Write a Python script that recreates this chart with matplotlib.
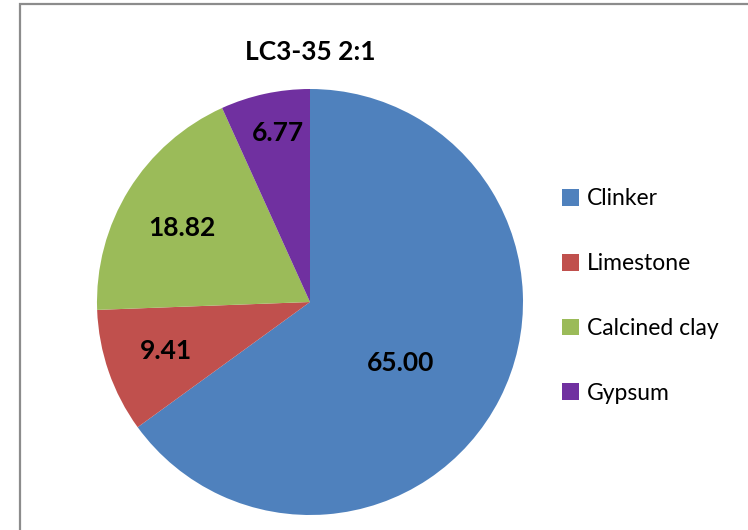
import numpy as np
import matplotlib
matplotlib.use("Agg")
import matplotlib.pyplot as plt
from matplotlib.patches import Rectangle

title = "LC3-35 2:1"
categories = ["Clinker", "Limestone", "Calcined clay", "Gypsum"]
values = [65.00, 9.41, 18.82, 6.77]
colors = ["#4F81BD", "#C0504D", "#9BBB59", "#7030A0"]
label_dist = [0.507, 0.714, 0.699, 0.817]
label_ang_off = [-6.1, -0.9, 1.05, -1.6]

plt.rcParams['font.family'] = ['Lato', 'DejaVu Sans']

W, H = 748, 530
fig = plt.figure(figsize=(W / 100, H / 100), dpi=100)

# chart frame
fig.add_artist(Rectangle((19.5 / W, -0.1), 1.2, (H - 3.5) / H + 0.1, transform=fig.transFigure,
                         fill=False, edgecolor="#8C8C8C", linewidth=1.6))

cx, cy, r = 310, 302, 213
ax = fig.add_axes([(cx - r) / W, (H - cy - r) / H, 2 * r / W, 2 * r / H])
wedges, _ = ax.pie(values, colors=colors, startangle=90, counterclock=False,
                   radius=1.0, wedgeprops=dict(linewidth=0))
ax.set_xlim(-1, 1)
ax.set_ylim(-1, 1)
ax.set_aspect('auto')
ax.axis('off')

for w, v, d, off in zip(wedges, values, label_dist, label_ang_off):
    ang = np.deg2rad((w.theta1 + w.theta2) / 2 + off)
    ax.text(d * np.cos(ang), d * np.sin(ang), f"{v:.2f}", ha='center', va='center_baseline',
            fontsize=19, fontweight='bold', color='black')

fig.text(cx / W, 1 - 50 / H, title, ha='center', va='center_baseline', fontsize=19, fontweight='bold')

leg = fig.legend(wedges, categories, loc='center left', bbox_to_anchor=(541 / W, 1 - 296 / H),
                 frameon=False, fontsize=16.5, handlelength=0.75, handleheight=0.75,
                 handletextpad=0.35, labelspacing=1.91)

fig.savefig("out.png", dpi=100)
